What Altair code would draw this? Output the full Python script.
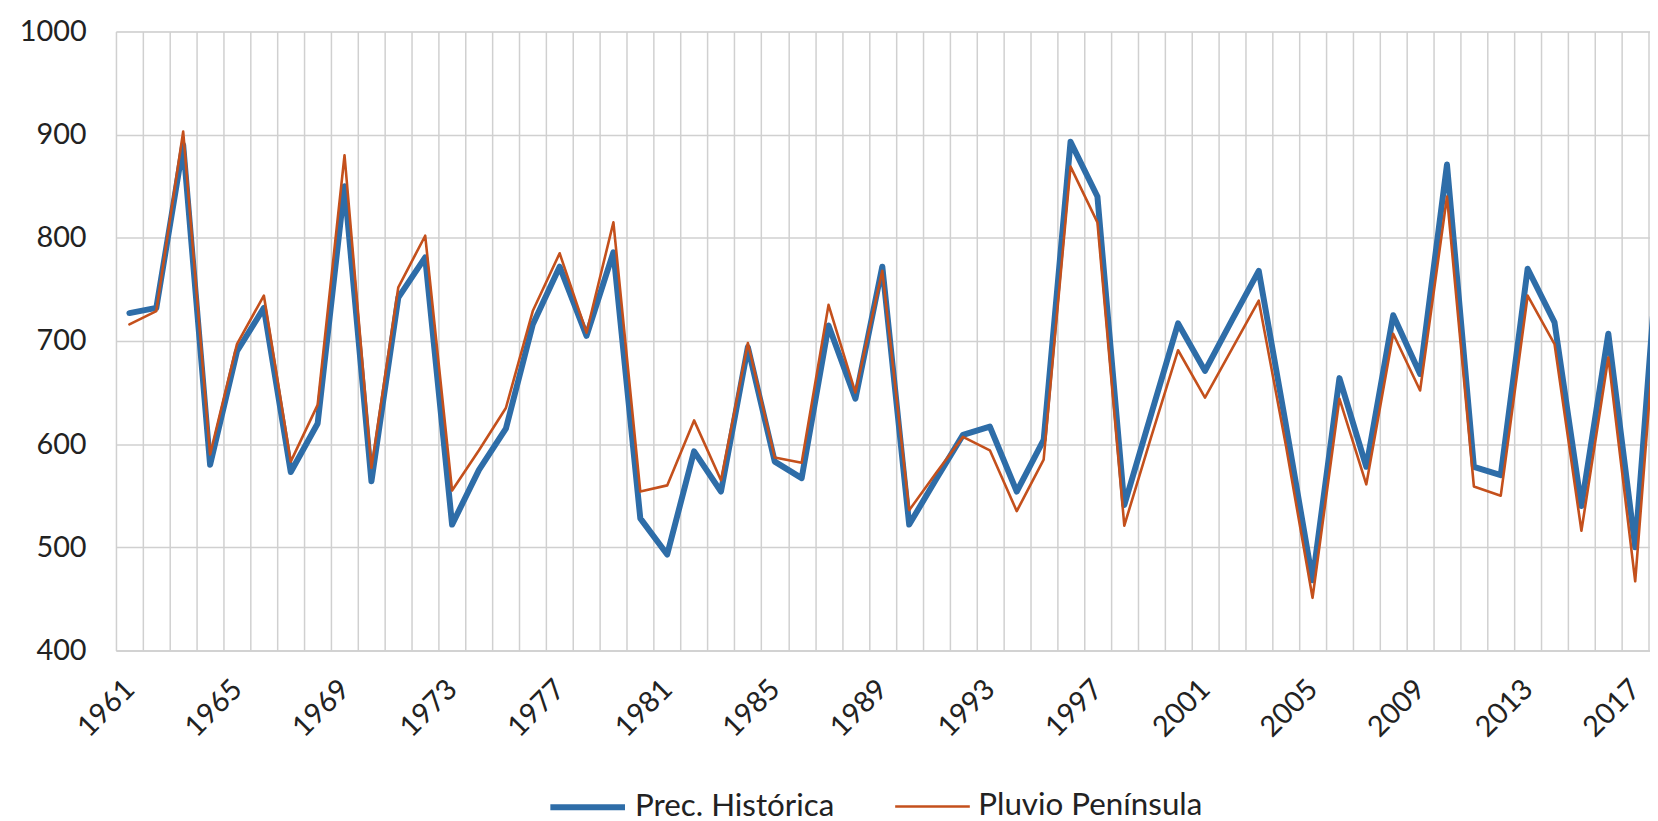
import altair as alt
import pandas as pd

years = list(range(1961, 2019))
prec_historica = [727, 732, 890, 580, 690, 732, 573, 620, 850, 564,
                  742, 781, 522, 575, 615, 716, 772, 705, 786, 528,
                  493, 593, 554, 694, 583, 567, 715, 644, 772, 522,
                  566, 609, 617, 554, 604, 893, 840, 541, 629, 717,
                  671, 720, 768, 620, 468, 664, 578, 725, 668, 871,
                  578, 570, 770, 718, 540, 707, 500, 840]
pluvio_peninsula = [716, 729, 903, 590, 697, 744, 583, 638, 880, 577,
                    752, 802, 555, 594, 635, 729, 785, 708, 815, 554,
                    560, 623, 565, 698, 587, 582, 735, 650, 768, 536,
                    572, 607, 594, 535, 585, 869, 815, 521, 607, 691,
                    645, 692, 739, 600, 451, 644, 561, 707, 652, 840,
                    559, 550, 744, 697, 516, 684, 467, 800]
series_names = ["Prec. Histórica", "Pluvio Península"]
y_ticks = [400, 500, 600, 700, 800, 900, 1000]

colors = ["#2E6DA8", "#C4501C"]
stroke_widths = [6, 2.6]
FONT = "Lato"
TXT = "#222222"
GRID = "#d0d0d0"

df = pd.DataFrame({
    "year": years * 2,
    "value": prec_historica + pluvio_peninsula,
    "serie": [series_names[0]] * len(years) + [series_names[1]] * len(years),
})

band = 27.02
x_enc = alt.X(
    "year:O",
    scale=alt.Scale(domain=years, range=[0, band * len(years)], paddingInner=0, paddingOuter=0),
    axis=alt.Axis(
        title=None, grid=True, tickBand="extent", ticks=False,
        labelExpr="(datum.value - 1961) % 4 == 0 ? datum.label : ''",
        labelAngle=-45, labelAlign="right", labelBaseline="middle",
        labelPadding=34, labelOverlap=False, labelBound=False,
        labelFont=FONT, labelFontSize=29, labelColor=TXT,
        domainColor=GRID, domainWidth=1.5, gridColor=GRID, gridWidth=1.5,
    ),
)
y_enc = alt.Y(
    "value:Q",
    scale=alt.Scale(domain=[400, 1000], nice=False, zero=False),
    axis=alt.Axis(
        title=None, values=y_ticks, format="d", domain=False, ticks=False, labelPadding=30,
        labelFont=FONT, labelFontSize=29, labelColor=TXT,
        gridColor=GRID, gridWidth=1.5,
    ),
)
legend = alt.Legend(
    title=None, orient="none", legendX=433.5, legendY=739, direction="horizontal",
    symbolType="stroke", symbolSize=5625, labelFont=FONT, labelFontSize=31.5,
    labelColor=TXT, labelLimit=500, columnPadding=55, labelOffset=7, padding=0,
)
color_enc = alt.Color("serie:N", scale=alt.Scale(domain=series_names, range=colors), legend=legend)
sw_enc = alt.StrokeWidth("serie:N", scale=alt.Scale(domain=series_names, range=stroke_widths), legend=legend)

def layer(name):
    return alt.Chart(df).transform_filter(alt.datum.serie == name).mark_line(
        strokeJoin="round", strokeCap="round", clip=True
    ).encode(x=x_enc, y=y_enc, color=color_enc, strokeWidth=sw_enc)

chart = alt.layer(layer(series_names[0]), layer(series_names[1])).properties(
    width=1541.5, height=622,
    autosize=alt.AutoSizeParams(type="none"),
    padding={"left": 108.5, "top": 21.6, "right": 0, "bottom": 169},
).configure_view(stroke=None).configure(background="white")

chart.save("out.html", embed_options={"renderer": "svg", "actions": False})
